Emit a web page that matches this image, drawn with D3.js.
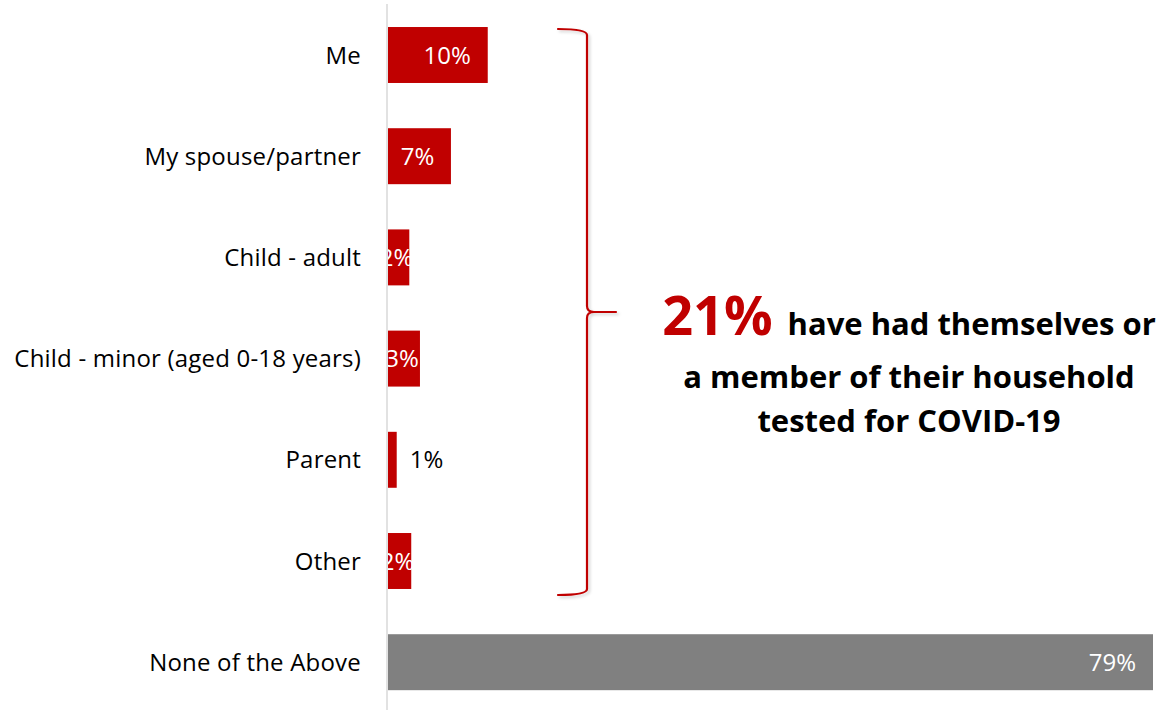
<!DOCTYPE html>
<html>
<head>
<meta charset="utf-8">
<script src="https://cdn.jsdelivr.net/npm/d3@7"></script>
<style>
  html, body { margin: 0; padding: 0; background: #ffffff; }
  svg { display: block; font-family: "Open Sans", "Noto Sans", sans-serif; }
</style>
</head>
<body>
<svg id="chart" width="1159" height="710"></svg>
<script>
// Who in the household has been tested for COVID-19 (share of respondents, %)
const categories = ["Me", "My spouse/partner", "Child - adult", "Child - minor (aged 0-18 years)", "Parent", "Other", "None of the Above"];
const values = [10.3, 6.5, 2.2, 3.3, 0.9, 2.4, 79];
const groups = ["tested", "tested", "tested", "tested", "tested", "tested", "none"];
const headline = "21%";
const noteLines = ["have had themselves or", "a member of their household", "tested for COVID-19"];

const RED = "#c00000";
const GREY = "#808080";
const FONT = "'Open Sans', 'Noto Sans', sans-serif";

const svg = d3.select("#chart");
const W = 1159, H = 710;
const plotLeft = 388;

const x = d3.scaleLinear().domain([0, 79]).range([plotLeft, 1153]);
const y = d3.scaleBand().domain(categories).range([4.4, 712.8]).paddingInner(0.447).paddingOuter(0.2235);
const colour = d3.scaleOrdinal().domain(["tested", "none"]).range([RED, GREY]);
const fmt = v => d3.format(".0f")(v) + "%";

const defs = svg.append("defs");
// clip for labels that overflow the left edge of the plot
defs.append("clipPath").attr("id", "plotClip")
  .append("rect").attr("x", plotLeft).attr("y", 0).attr("width", W - plotLeft).attr("height", H);

const shadow = defs.append("filter").attr("id", "soft")
  .attr("x", "-50%").attr("y", "-5%").attr("width", "200%").attr("height", "110%");
shadow.append("feDropShadow").attr("dx", 2).attr("dy", 2).attr("stdDeviation", 1.5)
  .attr("flood-color", "#000").attr("flood-opacity", 0.18);

const rows = categories.map((c, i) => ({ cat: c, value: values[i], group: groups[i] }));

// bars
svg.append("g").selectAll("rect").data(rows).join("rect")
  .attr("x", x(0))
  .attr("y", d => y(d.cat))
  .attr("width", d => x(d.value) - x(0))
  .attr("height", y.bandwidth())
  .attr("fill", d => colour(d.group));

// category axis
const axis = d3.axisLeft(y).tickSize(0).tickPadding(26);
const gAxis = svg.append("g").attr("transform", `translate(${plotLeft - 1},0)`).call(axis);
gAxis.select(".domain").remove();
gAxis.selectAll("text")
  .attr("font-family", FONT)
  .attr("font-size", 24)
  .attr("letter-spacing", 0.2)
  .attr("fill", "#000")
  .attr("dy", "0.36em");
svg.append("line")
  .attr("x1", plotLeft - 1).attr("x2", plotLeft - 1)
  .attr("y1", 4).attr("y2", H)
  .attr("stroke", "#d9d9d9").attr("stroke-width", 1.5);

// value labels
const labels = svg.append("g").attr("clip-path", "url(#plotClip)")
  .attr("font-family", FONT).attr("font-size", 24);
labels.selectAll("text").data(rows).join("text")
  .each(function (d) {
    const t = d3.select(this).text(fmt(d.value));
    const w = this.getComputedTextLength();
    const barW = x(d.value) - x(0);
    const cy = y(d.cat) + y.bandwidth() / 2;
    t.attr("y", cy).attr("dy", "0.36em");
    if (barW < 15) {
      t.attr("x", x(d.value) + 13).attr("text-anchor", "start").attr("fill", "#000");
    } else if (barW >= w + 34) {
      t.attr("x", x(d.value) - 17).attr("text-anchor", "end").attr("fill", "#fff");
    } else {
      t.attr("x", (x(0) + x(d.value)) / 2 - 2).attr("text-anchor", "middle").attr("fill", "#fff");
    }
  });

// brace spanning the tested group
const tested = rows.filter(d => d.group === "tested");
const bTop = y(tested[0].cat) + 2;
const bBot = y(tested[tested.length - 1].cat) + y.bandwidth() + 6;
const bMid = (bTop + bBot) / 2;
const bx0 = 558, bx = 587, tip = 616, r = 6;
const p = d3.path();
p.moveTo(bx0, bTop);
p.quadraticCurveTo(bx, bTop, bx, bTop + r);
p.lineTo(bx, bMid - r);
p.quadraticCurveTo(bx, bMid, tip - 22, bMid);
p.lineTo(tip, bMid);
p.moveTo(tip - 22, bMid);
p.quadraticCurveTo(bx, bMid, bx, bMid + r);
p.lineTo(bx, bBot - r);
p.quadraticCurveTo(bx, bBot, bx0, bBot);
svg.append("path").attr("d", p.toString())
  .attr("fill", "none").attr("stroke", RED).attr("stroke-width", 2.2)
  .attr("stroke-linecap", "round").attr("stroke-linejoin", "round")
  .attr("filter", "url(#soft)");

// annotation
const cx = 909;
const note = svg.append("g").attr("font-family", FONT).attr("font-weight", 700).attr("text-anchor", "middle");
const l1 = note.append("text").attr("x", cx).attr("y", 335);
l1.append("tspan").attr("fill", RED).attr("font-size", 54).text(headline);
l1.append("tspan").attr("fill", "#000").attr("font-size", 31).attr("dx", 15).text(noteLines[0]);
note.append("text").attr("x", cx).attr("y", 388).attr("font-size", 31).attr("fill", "#000").text(noteLines[1]);
note.append("text").attr("x", cx).attr("y", 432).attr("font-size", 31).attr("fill", "#000").text(noteLines[2]);
</script>
</body>
</html>
